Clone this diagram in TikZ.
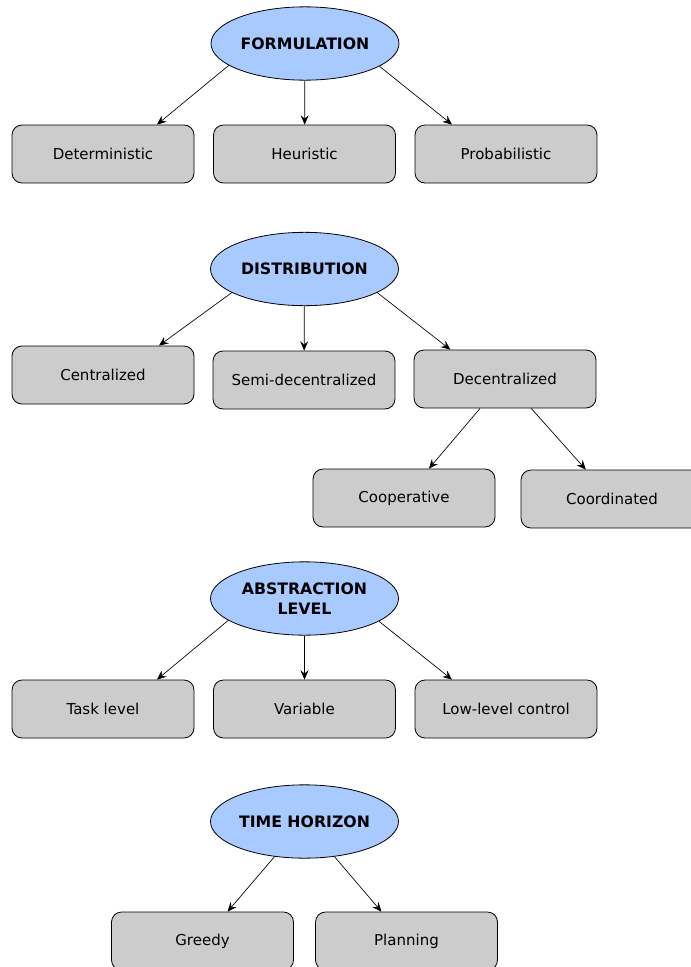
\documentclass[tikz,border=0pt]{standalone}
\usepackage{fontspec}
\setmainfont{DejaVu Sans}
\usepackage{tikz}
\usetikzlibrary{shapes.geometric, arrows.meta, positioning}
\definecolor{topicblue}{HTML}{A9CAFF}
\definecolor{optiongray}{HTML}{CCCCCC}

\begin{document}
\begin{tikzpicture}[x=0.75pt, y=-0.75pt,
  topic/.style={draw, ellipse, fill=topicblue, line width=0.6pt, minimum width=141pt, minimum height=55pt, inner sep=0pt, font=\fontsize{11.8}{15.5}\selectfont\bfseries, align=center},
  option/.style={draw, rounded corners=7.5pt, fill=optiongray, line width=0.6pt, minimum width=136.5pt, minimum height=43.5pt, inner sep=0pt, font=\fontsize{11.25}{13.5}\selectfont},
  branch/.style={-{Stealth[length=7pt, width=6pt, inset=2.5pt]}, line width=0.5pt}]
  \useasboundingbox (0,0) rectangle (690,967);

  % Formulation
  \node[topic] (formulation) at (305, 43.5) {FORMULATION};
  \node[option] (deterministic) at (103, 154) {Deterministic};
  \node[option] (heuristic) at (304.5, 154) {Heuristic};
  \node[option] (probabilistic) at (506, 154) {Probabilistic};

  % Distribution
  \node[topic] (distribution) at (304.5, 269) {DISTRIBUTION};
  \node[option] (centralized) at (103, 375) {Centralized};
  \node[option] (semidecentralized) at (304, 380) {Semi-decentralized};
  \node[option] (decentralized) at (505, 379) {Decentralized};
  \node[option] (cooperative) at (404, 498) {Cooperative};
  \node[option] (coordinated) at (612, 499) {Coordinated};

  % Abstraction level
  \node[topic] (abstraction) at (304.5, 598.5) {ABSTRACTION\\LEVEL};
  \node[option] (tasklevel) at (103, 709) {Task level};
  \node[option] (variable) at (304.5, 709) {Variable};
  \node[option] (lowlevel) at (506, 709) {Low-level control};

  % Time horizon
  \node[topic] (timehorizon) at (304.5, 821.5) {TIME HORIZON};
  \node[option] (greedy) at (202.5, 941) {Greedy};
  \node[option] (planning) at (406.5, 941) {Planning};

  % Branches
  \draw[branch] (formulation.196.5) -- ([xshift=40.5pt]deterministic.north);
  \draw[branch] (formulation) -- (heuristic);
  \draw[branch] (formulation.343.5) -- ([xshift=-40.5pt]probabilistic.north);

  \draw[branch] (distribution.198) -- ([xshift=42pt]centralized.north);
  \draw[branch] (distribution) -- (semidecentralized);
  \draw[branch] (distribution.342) -- ([xshift=-41pt]decentralized.north);
  \draw[branch] (decentralized) -- (cooperative);
  \draw[branch] (decentralized) -- (coordinated);

  \draw[branch] (abstraction.196.5) -- ([xshift=40.5pt]tasklevel.north);
  \draw[branch] (abstraction) -- (variable);
  \draw[branch] (abstraction.343.5) -- ([xshift=-40.5pt]lowlevel.north);

  \draw[branch] (timehorizon) -- (greedy);
  \draw[branch] (timehorizon) -- (planning);
\end{tikzpicture}
\end{document}
